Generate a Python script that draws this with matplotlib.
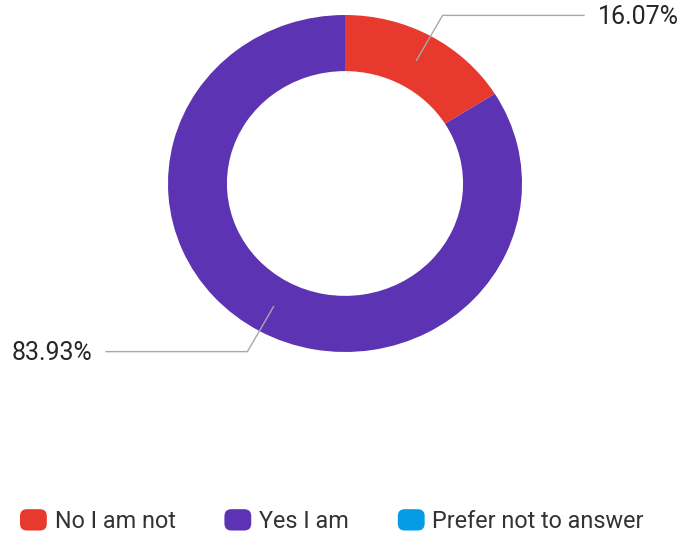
import numpy as np
import matplotlib
matplotlib.use("Agg")
import matplotlib.pyplot as plt
from matplotlib.patches import FancyBboxPatch, Wedge
from matplotlib.legend_handler import HandlerPatch

plt.rcParams['font.family'] = ['Roboto', 'DejaVu Sans']

categories = ["No I am not", "Yes I am", "Prefer not to answer"]
values = [16.07, 83.93, 0.0]
colors = ["#E8392F", "#5C33B2", "#069BE5"]

W, H = 683, 539
fig = plt.figure(figsize=(W / 100, H / 100), dpi=100)

# donut area in pixel terms (left, top, right, bottom)
L, T, R, B = 168, 15, 522, 352
ax = fig.add_axes([L / W, 1 - B / H, (R - L) / W, (B - T) / H])

wedges, _ = ax.pie(values, colors=colors, startangle=90, counterclock=False,
                   radius=1.0, wedgeprops=dict(width=0.333, linewidth=0))
ax.set_xlim(-1, 1)
ax.set_ylim(-1, 1)
ax.set_aspect('auto')
ax.axis('off')

# leader lines and value labels
total = sum(values)
line_col = "#a8a8a8"
start = 90.0
for v, w in zip(values, wedges):
    if v <= 0:
        continue
    sweep = v / total * 360
    mid = np.deg2rad(start - sweep / 2)
    start -= sweep
    cx, cy = np.cos(mid), np.sin(mid)
    p0 = (0.835 * cx, 0.835 * cy)
    p1 = (1.14 * cx, 1.14 * cy)
    side = 1 if cx > 0 else -1
    p2 = (side * 1.35, p1[1])
    ax.plot([p0[0], p1[0], p2[0]], [p0[1], p1[1], p2[1]], color=line_col,
            lw=1.0, clip_on=False, solid_joinstyle='miter')
    ax.text(side * 1.43, p1[1] - 0.01, f"{v:.2f}%", ha='left' if side > 0 else 'right',
            va='center', fontsize=18, color="#262626", clip_on=False)


class RoundBoxHandler(HandlerPatch):
    def create_artists(self, legend, orig_handle, xdescent, ydescent, width,
                       height, fontsize, trans):
        p = FancyBboxPatch((-xdescent + 2, -ydescent + 2), width - 4, height - 4,
                           boxstyle="round,pad=2,rounding_size=5",
                           facecolor=orig_handle.get_facecolor(), edgecolor='none',
                           transform=trans)
        return [p]


leg = fig.legend(wedges, categories, loc='center left',
                 bbox_to_anchor=(20 / W, 18 / H), ncol=3, frameon=False,
                 fontsize=16.8, handlelength=1.15, handleheight=1.03,
                 handletextpad=0.33, columnspacing=2.1, borderpad=0,
                 borderaxespad=0,
                 handler_map={Wedge: RoundBoxHandler()})
for t in leg.get_texts():
    t.set_color("#333333")

fig.savefig("out.png", dpi=100)
